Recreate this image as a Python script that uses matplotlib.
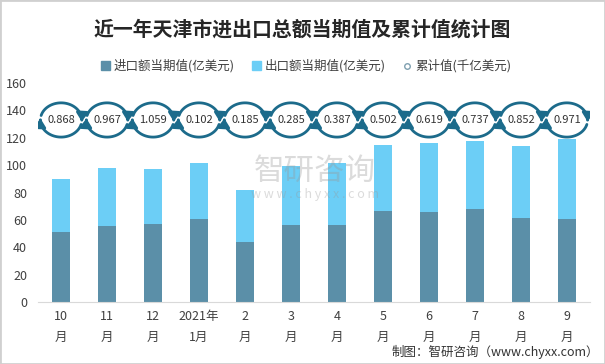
import matplotlib.pyplot as plt
import numpy as np
from matplotlib.patches import Patch, FancyArrowPatch, Rectangle
from matplotlib.lines import Line2D
from matplotlib.path import Path

plt.rcParams['font.family'] = ['Noto Sans CJK SC', 'DejaVu Sans']

# data
months = ["10\n月", "11\n月", "12\n月", "2021年\n1月", "2\n月", "3\n月",
          "4\n月", "5\n月", "6\n月", "7\n月", "8\n月", "9\n月"]
total = [89.8, 97.8, 97.1, 101.5, 81.8, 99.6, 101.5, 114.6, 116.0, 117.5, 113.9, 119.0]
imports = [51.1, 55.5, 56.9, 60.6, 43.8, 56.2, 56.2, 66.4, 65.7, 67.9, 61.3, 60.6]
exports = [t - i for t, i in zip(total, imports)]
cumulative = ["0.868", "0.967", "1.059", "0.102", "0.185", "0.285",
              "0.387", "0.502", "0.619", "0.737", "0.852", "0.971"]

c_imp = "#5B8FA8"
c_exp = "#6CCEF6"
c_arrow = "#1C6B8B"

fig = plt.figure(figsize=(6.05, 3.64), dpi=100)
ax = fig.add_axes([0.063, 0.17, 0.912, 0.602])

x = np.arange(len(months))
w = 0.39
ax.bar(x, imports, w, color=c_imp, zorder=2)
ax.bar(x, exports, w, bottom=imports, color=c_exp, zorder=2)


def arc_arrow(cx, cy, t0, t1, rx=0.45, ry=12.5):
    t = np.radians(np.linspace(t0, t1, 40))
    verts = np.column_stack([cx + rx * np.cos(t), cy + ry * np.sin(t)])
    p = FancyArrowPatch(path=Path(verts),
                        arrowstyle="-|>,head_length=0.5,head_width=0.35",
                        mutation_scale=10, color=c_arrow, lw=2.0, zorder=3)
    ax.add_patch(p)


# cumulative value "cycle" icons
yc = 133
for i, lab in enumerate(cumulative):
    arc_arrow(i, yc, 165, -5)
    arc_arrow(i, yc, 345, 175)
    ax.text(i, yc, lab, ha="center", va="center", fontsize=8, color="#333333", zorder=4)

ax.set_xlim(-0.5, len(months) - 0.5)
ax.set_ylim(0, 160)
ax.set_yticks(range(0, 161, 20))
ax.set_xticks(x)
ax.set_xticklabels(months, linespacing=1.7)
ax.tick_params(axis="both", length=0, labelsize=9, colors="#404040")
ax.tick_params(axis="y", pad=8)
ax.tick_params(axis="x", pad=6)
for s in ["top", "right", "left"]:
    ax.spines[s].set_visible(False)
ax.spines["bottom"].set_color("#D9D9D9")

# watermark
fig.text(0.52, 0.53, "智研咨询", fontsize=22, color="#999999", alpha=0.35,
         ha="center", va="center")
fig.text(0.52, 0.465, "w w w . c h y x x . c o m", fontsize=9, color="#999999",
         alpha=0.35, ha="center", va="center")

fig.text(0.5, 0.92, "近一年天津市进出口总额当期值及累计值统计图", fontsize=14.3,
         fontweight="bold", color="#262626", ha="center", va="center")

handles = [Patch(color=c_imp), Patch(color=c_exp),
           Line2D([], [], marker="o", ls="none", mfc="white", mec="#7F9FB0",
                  markersize=4)]
fig.legend(handles, ["进口额当期值(亿美元)", "出口额当期值(亿美元)", "累计值(千亿美元)"],
           loc="center", bbox_to_anchor=(0.506, 0.818), ncol=3, frameon=False,
           fontsize=9, handlelength=0.7, handleheight=0.7, handletextpad=0.3,
           columnspacing=1.4, labelcolor="#404040")

fig.text(0.99, 0.032, "制图：智研咨询（www.chyxx.com）", fontsize=9,
         color="#333333", ha="right", va="center")

fig.patches.append(Rectangle((0, 0), 1, 1, transform=fig.transFigure,
                             fill=False, ec="#D0D0D0", lw=2))

fig.savefig("out.png", dpi=100)
